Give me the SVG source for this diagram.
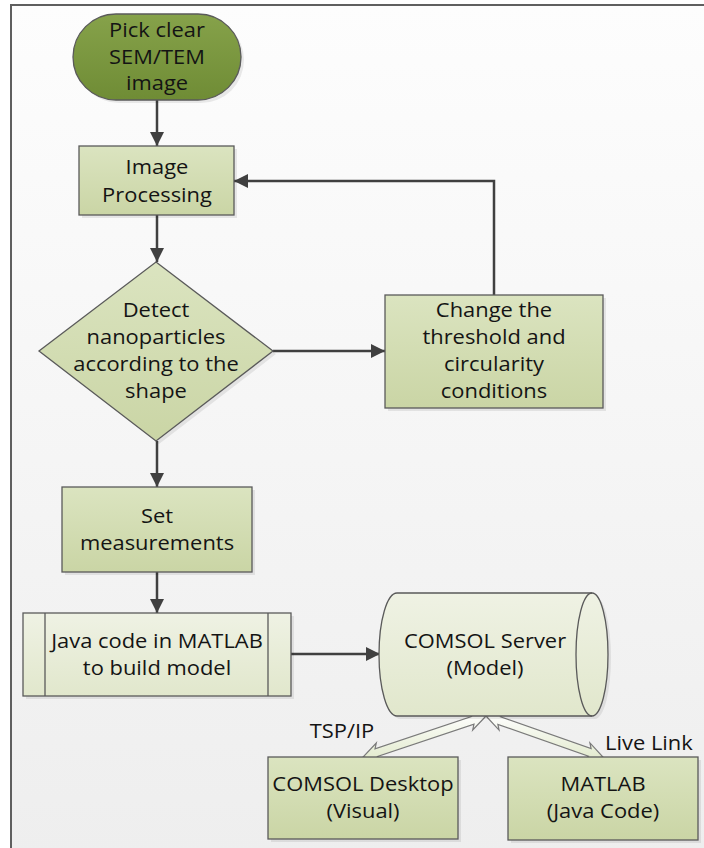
<svg xmlns="http://www.w3.org/2000/svg" width="704" height="848" viewBox="0 0 704 848">
  <defs>
    <linearGradient id="bg" x1="0" y1="0" x2="0" y2="1">
      <stop offset="0" stop-color="#fdfdfd"/>
      <stop offset="1" stop-color="#eeeeee"/>
    </linearGradient>
    <linearGradient id="gOlive" x1="0" y1="0" x2="0" y2="1">
      <stop offset="0" stop-color="#86a24a"/>
      <stop offset="1" stop-color="#6f8c35"/>
    </linearGradient>
    <linearGradient id="gGreen" x1="0" y1="0" x2="0" y2="1">
      <stop offset="0" stop-color="#dbe4c0"/>
      <stop offset="1" stop-color="#cad5a5"/>
    </linearGradient>
    <linearGradient id="gLight" x1="0" y1="0" x2="0" y2="1">
      <stop offset="0" stop-color="#eff2e4"/>
      <stop offset="1" stop-color="#e1e7cc"/>
    </linearGradient>
    <linearGradient id="gArrow" x1="0" y1="0" x2="0" y2="1">
      <stop offset="0" stop-color="#ffffff"/>
      <stop offset="1" stop-color="#e2eacd"/>
    </linearGradient>
    <marker id="ah" markerUnits="userSpaceOnUse" markerWidth="16" markerHeight="16" viewBox="0 0 16 16" refX="15" refY="8" orient="auto">
      <path d="M1,1 L15,8 L1,15 z" fill="#404040"/>
    </marker>
    <style>
      .t { font-family: "Open Sans", "Liberation Sans", sans-serif; font-size: 19.4px; fill: #141414; text-anchor: middle; }
      .lbl { font-family: "Open Sans", "Liberation Sans", sans-serif; font-size: 19.4px; fill: #141414; text-anchor: start; }
      .node { stroke: #5a5a5a; stroke-width: 1.3; }
      .sh { fill: #000000; opacity: 0.08; }
      .conn { fill: none; stroke: #404040; stroke-width: 2.5; marker-end: url(#ah); }
      .blk { fill: url(#gArrow); stroke: #7a7a7a; stroke-width: 1.2; stroke-linejoin: miter; }
    </style>
  </defs>

  <rect x="0" y="0" width="704" height="848" fill="#ffffff"/>
  <rect x="11" y="5" width="700" height="850" fill="url(#bg)" stroke="#5f5f5f" stroke-width="2"/>

  <g id="connectors">
    <path class="conn" d="M157,100 V146"/>
    <path class="conn" d="M157,215 V262"/>
    <path class="conn" d="M273,351 H385"/>
    <path class="conn" d="M494,295 V181 H234"/>
    <path class="conn" d="M157,441 V487"/>
    <path class="conn" d="M157,572 V613"/>
    <path class="conn" d="M291,654 H380"/>
    <polygon class="blk" points="486,716 472.72,729.92 473.98,724.22 377.54,756.36 381.98,760.16 363,757 376.28,743.08 375.02,748.78 471.46,716.64 467.02,712.84"/>
    <polygon class="blk" points="486,716 499.06,730.11 497.89,724.40 588.47,756.14 583.98,759.87 603,757 589.94,742.89 591.11,748.60 500.53,716.86 505.02,713.13"/>
    <g transform="translate(342,0) scale(1.13,1)"><text class="t" x="0" y="738">TSP/IP</text></g>
    <g transform="translate(605,0) scale(1.13,1)"><text class="lbl" x="0" y="750">Live Link</text></g>
  </g>

  <g id="start">
    <rect class="sh" x="76" y="17" width="168" height="86" rx="43"/>
    <rect class="node" x="73" y="14" width="168" height="86" rx="43" fill="url(#gOlive)" stroke="#5b722c"/>
    <g transform="translate(157,0) scale(1.13,1)">
      <text class="t" x="0" y="37">Pick clear</text>
      <text class="t" x="0" y="64">SEM/TEM</text>
      <text class="t" x="0" y="90">image</text>
    </g>
  </g>

  <g id="image-processing">
    <rect class="sh" x="82" y="149" width="155" height="69"/>
    <rect class="node" x="79" y="146" width="155" height="69" fill="url(#gGreen)"/>
    <g transform="translate(157,0) scale(1.13,1)">
      <text class="t" x="0" y="174">Image</text>
      <text class="t" x="0" y="202">Processing</text>
    </g>
  </g>

  <g id="detect">
    <polygon class="sh" points="159,265 276,354 159,444 42,354"/>
    <polygon class="node" points="156,262 273,351 156,441 39,351" fill="url(#gGreen)"/>
    <g transform="translate(156,0) scale(1.13,1)">
      <text class="t" x="0" y="317">Detect</text>
      <text class="t" x="0" y="344">nanoparticles</text>
      <text class="t" x="0" y="371">according to the</text>
      <text class="t" x="0" y="398">shape</text>
    </g>
  </g>

  <g id="change">
    <rect class="sh" x="388" y="298" width="218" height="113"/>
    <rect class="node" x="385" y="295" width="218" height="113" fill="url(#gGreen)"/>
    <g transform="translate(494,0) scale(1.13,1)">
      <text class="t" x="0" y="317">Change the</text>
      <text class="t" x="0" y="344">threshold and</text>
      <text class="t" x="0" y="371">circularity</text>
      <text class="t" x="0" y="398">conditions</text>
    </g>
  </g>

  <g id="set-measurements">
    <rect class="sh" x="65" y="490" width="190" height="85"/>
    <rect class="node" x="62" y="487" width="190" height="85" fill="url(#gGreen)"/>
    <g transform="translate(157,0) scale(1.13,1)">
      <text class="t" x="0" y="523">Set</text>
      <text class="t" x="0" y="550">measurements</text>
    </g>
  </g>

  <g id="java-code">
    <rect class="sh" x="26" y="616" width="268" height="83"/>
    <rect class="node" x="23" y="613" width="268" height="83" fill="url(#gLight)"/>
    <line class="node" x1="45" y1="613" x2="45" y2="696"/>
    <line class="node" x1="268" y1="613" x2="268" y2="696"/>
    <g transform="translate(157,0) scale(1.13,1)">
      <text class="t" x="0" y="648">Java code in MATLAB</text>
      <text class="t" x="0" y="675">to build model</text>
    </g>
  </g>

  <g id="comsol-server">
    <path class="sh" d="M400,596 H595 A16,61.5 0 0 1 595,719 H400 A18,61.5 0 0 1 400,596 z"/>
    <path class="node" d="M397,593 H592 A16,61.5 0 0 1 592,716 H397 A18,61.5 0 0 1 397,593 z" fill="url(#gLight)"/>
    <path class="node" d="M592,593 A16,61.5 0 0 0 592,716" fill="none"/>
    <g transform="translate(485,0) scale(1.13,1)">
      <text class="t" x="0" y="648">COMSOL Server</text>
      <text class="t" x="0" y="675">(Model)</text>
    </g>
  </g>

  <g id="comsol-desktop">
    <rect class="sh" x="271" y="760" width="190" height="82"/>
    <rect class="node" x="268" y="757" width="190" height="82" fill="url(#gGreen)"/>
    <g transform="translate(363,0) scale(1.13,1)">
      <text class="t" x="0" y="791">COMSOL Desktop</text>
      <text class="t" x="0" y="818">(Visual)</text>
    </g>
  </g>

  <g id="matlab">
    <rect class="sh" x="511" y="760" width="190" height="83"/>
    <rect class="node" x="508" y="757" width="190" height="83" fill="url(#gGreen)"/>
    <g transform="translate(603,0) scale(1.13,1)">
      <text class="t" x="0" y="791">MATLAB</text>
      <text class="t" x="0" y="818">(Java Code)</text>
    </g>
  </g>
</svg>
